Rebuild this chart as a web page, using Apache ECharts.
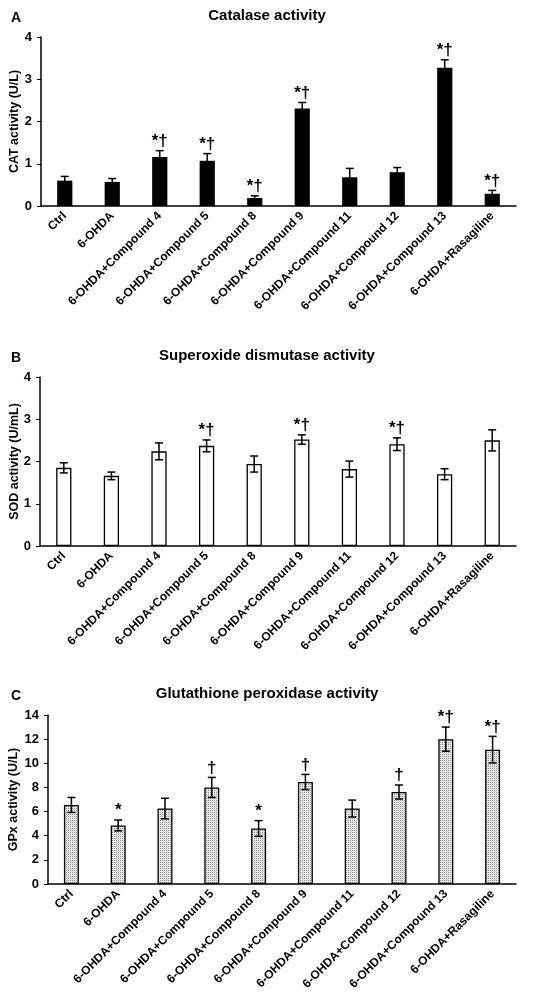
<!DOCTYPE html>
<html>
<head>
<meta charset="utf-8">
<script src="https://cdn.jsdelivr.net/npm/echarts@6/dist/echarts.min.js"></script>
<style>
  html,body{margin:0;padding:0;background:#fff;}
  #chart{width:550px;height:1005px;}
</style>
</head>
<body>
<div id="chart"></div>
<script>
// ---- data ----
const groups = ['Ctrl','6-OHDA','6-OHDA+Compound 4','6-OHDA+Compound 5','6-OHDA+Compound 8',
  '6-OHDA+Compound 9','6-OHDA+Compound 11','6-OHDA+Compound 12','6-OHDA+Compound 13','6-OHDA+Rasagiline'];

const catMean = [0.60, 0.57, 1.16, 1.07, 0.19, 2.31, 0.68, 0.80, 3.27, 0.29];
const catErr  = [0.10, 0.08, 0.15, 0.17, 0.05, 0.14, 0.21, 0.11, 0.19, 0.08];
const catSig  = ['', '', '*†', '*†', '*†', '*†', '', '', '*†', '*†'];

const sodMean = [1.85, 1.66, 2.24, 2.37, 1.94, 2.52, 1.82, 2.41, 1.70, 2.50];
const sodErr  = [0.12, 0.09, 0.20, 0.14, 0.19, 0.11, 0.19, 0.15, 0.13, 0.25];
const sodSig  = ['', '', '', '*†', '', '*†', '', '*†', '', ''];

const gpxMean = [6.55, 4.85, 6.25, 8.00, 4.60, 8.45, 6.25, 7.62, 12.00, 11.13];
const gpxErr  = [0.62, 0.45, 0.85, 0.83, 0.65, 0.63, 0.70, 0.58, 1.00, 1.10];
const gpxSig  = ['', '*', '', '†', '*', '†', '', '†', '*†', '*†'];

const FONT = '"Liberation Sans", Arial, sans-serif';

// dotted fill for panel C
function dots(){
  const cv = document.createElement('canvas');
  cv.width = 2; cv.height = 2;
  const g = cv.getContext('2d');
  g.fillStyle = '#e4e4e4'; g.fillRect(0,0,2,2);
  g.fillStyle = '#9a9a9a'; g.fillRect(0,0,1,1);
  return cv;
}

const panels = [
  { mean:catMean, err:catErr, sig:catSig, max:4, step:1, title:'Catalase activity', tag:'A', yName:'CAT activity (U/L)',
    left:41, top:37, height:169, nameX:15, bar:{ color:'#000' } },
  { mean:sodMean, err:sodErr, sig:sodSig, max:4, step:1, title:'Superoxide dismutase activity', tag:'B', yName:'SOD activity (U/mL)',
    left:40, top:377, height:169, nameX:15, bar:{ color:'#fff', borderColor:'#000', borderWidth:1.3 } },
  { mean:gpxMean, err:gpxErr, sig:gpxSig, max:14, step:2, title:'Glutathione peroxidase activity', tag:'C', yName:'GPx activity (U/L)',
    left:48, top:715, height:169, nameX:14, bar:{ color:{ image:dots(), repeat:'repeat' }, borderColor:'#000', borderWidth:1.3 } },
];

const grid=[], xAxis=[], yAxis=[], series=[], title=[], graphic=[];
panels.forEach((p,i)=>{
  grid.push({ left:p.left, width:516-p.left, top:p.top, height:p.height, containLabel:false, outerBoundsMode:'none' });
  title.push({ text:p.title, left:262, top:p.top-34, textAlign:'center',
    textStyle:{ fontFamily:FONT, fontWeight:'bold', fontSize:15, color:'#000' } });
  title.push({ text:p.tag, left:6, top:p.top-31,
    textStyle:{ fontFamily:FONT, fontWeight:'bold', fontSize:14, color:'#000' } });
  // y axis title
  graphic.push({ type:'text', x:p.nameX, y:p.top+p.height/2, rotation:Math.PI/2,
    style:{ text:p.yName, align:'center', verticalAlign:'middle',
      fontFamily:FONT, fontWeight:'bold', fontSize:12.5, fill:'#000' } });
  xAxis.push({ gridIndex:i, type:'category', data:groups,
    axisLine:{ lineStyle:{ color:'#000', width:1.5 } }, axisTick:{ show:false },
    axisLabel:{ interval:0, rotate:45, margin:8, color:'#000', fontFamily:FONT, fontWeight:'bold', fontSize:12 } });
  yAxis.push({ gridIndex:i, type:'value', min:0, max:p.max, interval:p.step,
    axisLine:{ show:true, lineStyle:{ color:'#000', width:1.5 } },
    axisTick:{ show:true, length:4, lineStyle:{ color:'#000' } },
    axisLabel:{ margin:9, color:'#000', fontFamily:FONT, fontWeight:'bold', fontSize:13 },
    splitLine:{ show:false } });
  series.push({ type:'bar', xAxisIndex:i, yAxisIndex:i, data:p.mean, barWidth:'32%', itemStyle:p.bar });
  series.push({
    type:'custom', xAxisIndex:i, yAxisIndex:i, z:5,
    data:p.mean.map((m,k)=>[k, m, p.err[k]]),
    renderItem:(params, api)=>{
      const k = api.value(0), m = api.value(1), e = api.value(2);
      const hi = api.coord([k, m+e]), lo = api.coord([k, m-e]);
      const w = 4;
      const st = { stroke:'#000', lineWidth:1.5 };
      return { type:'group', children:[
        { type:'line', shape:{ x1:hi[0], y1:hi[1], x2:lo[0], y2:lo[1] }, style:st },
        { type:'line', shape:{ x1:hi[0]-w, y1:hi[1], x2:hi[0]+w, y2:hi[1] }, style:st },
        { type:'line', shape:{ x1:lo[0]-w, y1:lo[1], x2:lo[0]+w, y2:lo[1] }, style:st },
        { type:'text', style:{ text:p.sig[k], x:hi[0], y:hi[1]-1, align:'center', verticalAlign:'bottom',
          fontFamily:FONT, fontWeight:'bold', fontSize:17, fill:'#000' } },
      ]};
    }
  });
});

const chart = echarts.init(document.getElementById('chart'));
chart.setOption({ animation:false, backgroundColor:'#fff', title, grid, xAxis, yAxis, series, graphic });
</script>
</body>
</html>
